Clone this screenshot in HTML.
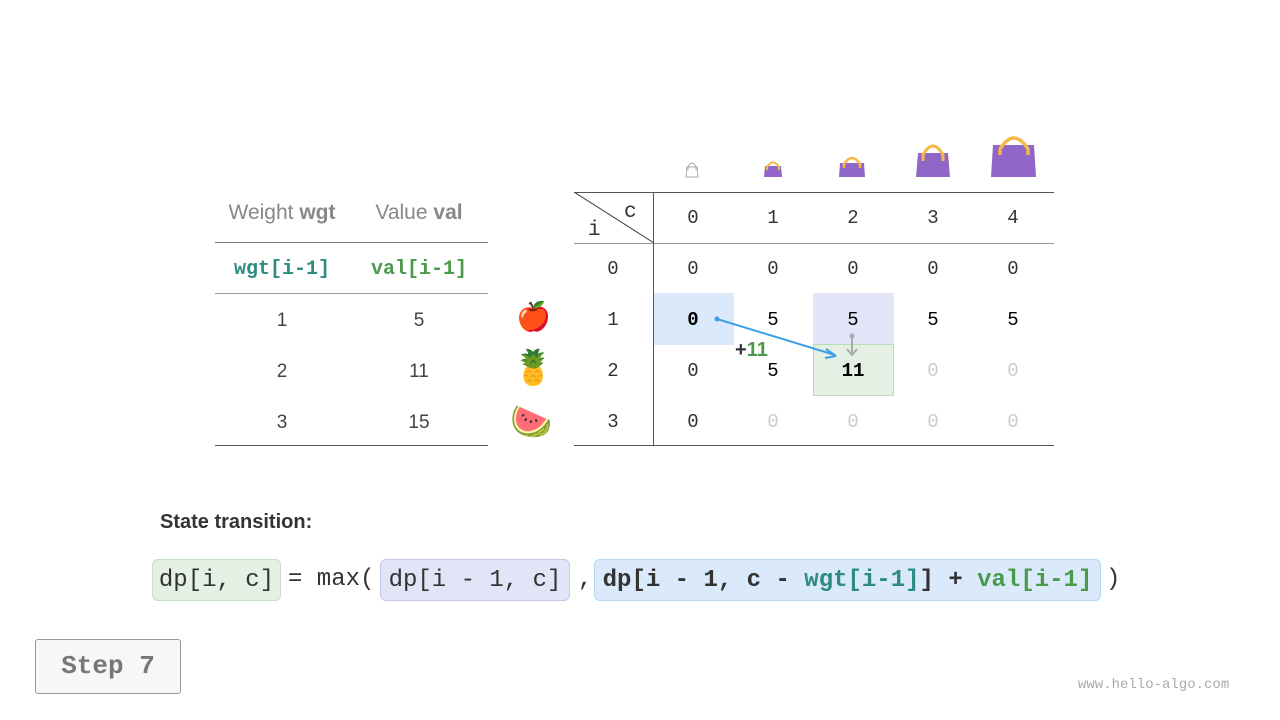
<!DOCTYPE html>
<html><head><meta charset="utf-8"><style>
body{margin:0;width:1280px;height:720px;background:#fff;position:relative;overflow:hidden;font-family:"Liberation Sans",sans-serif}
.a{position:absolute}
.m{font-family:"Liberation Mono",monospace}
.c{position:absolute;width:80px;text-align:center;font-family:"Liberation Mono",monospace;font-size:19px;color:#333;line-height:20px}
.g{color:#ccc}
.h{position:absolute;height:1px;background:#666}
.t{position:absolute;width:120px;text-align:center;font-size:19px;color:#444;line-height:20px}
.box{position:absolute;top:559px;height:42px;border-radius:6px;font-family:"Liberation Mono",monospace;font-size:24px;line-height:42px;color:#333;white-space:pre}
</style></head><body>
<div class="a" style="left:654px;top:293px;width:80px;height:52px;background:#dbeafa"></div>
<div class="a" style="left:813px;top:293px;width:81px;height:51px;background:#e1e5f7"></div>
<div class="a" style="left:813px;top:344px;width:81px;height:52px;background:#e3f0e3;border:1px solid #b5dcb5;box-sizing:border-box"></div>

<div class="t" style="left:212px;top:203px;width:140px;color:#888;font-size:21px">Weight <b>wgt</b></div>
<div class="t" style="left:349px;top:203px;width:140px;color:#888;font-size:21px">Value <b>val</b></div>
<div class="h" style="left:215px;width:273px;top:242px;background:#777"></div>
<div class="t m" style="left:222px;top:260px;color:#2e8b7f;font-weight:bold;font-family:'Liberation Mono',monospace;font-size:20px">wgt[i-1]</div>
<div class="t m" style="left:359px;top:260px;color:#4a9a4a;font-weight:bold;font-family:'Liberation Mono',monospace;font-size:20px">val[i-1]</div>
<div class="h" style="left:215px;width:273px;top:293px;background:#999"></div>
<div class="t" style="left:222px;top:311px">1</div><div class="t" style="left:359px;top:311px">5</div>
<div class="t" style="left:222px;top:362px">2</div><div class="t" style="left:359px;top:362px">11</div>
<div class="t" style="left:222px;top:413px">3</div><div class="t" style="left:359px;top:413px">15</div>
<div class="h" style="left:215px;width:273px;top:445px;background:#555"></div>

<div class="a" style="left:516px;top:300px;font-size:28px">🍎</div>
<div class="a" style="left:512px;top:348px;font-size:34px">🍍</div>
<div class="a" style="left:510px;top:402px;font-size:34px">🍉</div>

<svg class="a" style="left:560px;top:125px" width="500" height="60">
<g fill="none" stroke="#aaa" stroke-width="1"><path d="M126 52 h12 l-1 -10 h-10 z"/><path d="M128 45 v-3 q4 -8 8 0 v3"/></g>
<path d="M204 52 h18 l-1 -11 h-16z" fill="#9066c8"/><path d="M207 45 v-3 q6 -9 12 0 v3" stroke="#f5b94a" stroke-width="2" fill="none"/>
<path d="M279 52 h26 l-1 -14 h-24z" fill="#9066c8"/><path d="M284 43 v-4 q8 -12 16 0 v4" stroke="#f5b94a" stroke-width="2.5" fill="none"/>
<path d="M356 52 h34 l-2 -24 h-30z" fill="#9066c8"/><path d="M363 36 v-6 q10 -18 20 0 v6" stroke="#f5b94a" stroke-width="3" fill="none"/>
<path d="M431 52 h45 l-2 -32 h-41z" fill="#9066c8"/><path d="M440 30 v-6 q14 -22 28 0 v6" stroke="#f5b94a" stroke-width="3.5" fill="none"/>
</svg>

<div class="h" style="left:574px;width:480px;top:192px;background:#555"></div>
<div class="h" style="left:574px;width:480px;top:243px;background:#999"></div>
<div class="h" style="left:574px;width:480px;top:445px;background:#555"></div>
<div class="a" style="left:653px;top:192px;width:1px;height:254px;background:#555"></div>
<svg class="a" style="left:574px;top:192px" width="80" height="52"><line x1="0" y1="0" x2="80" y2="51" stroke="#444" stroke-width="1"/></svg>
<div class="a m" style="left:624px;top:201px;font-size:21px;color:#333">c</div>
<div class="a m" style="left:588px;top:219px;font-size:21px;color:#333">i</div>

<div class="c" style="left:653px;top:208px">0</div><div class="c" style="left:733px;top:208px">1</div><div class="c" style="left:813px;top:208px">2</div><div class="c" style="left:893px;top:208px">3</div><div class="c" style="left:973px;top:208px">4</div>
<div class="c" style="left:573px;top:259px">0</div><div class="c" style="left:653px;top:259px">0</div><div class="c" style="left:733px;top:259px">0</div><div class="c" style="left:813px;top:259px">0</div><div class="c" style="left:893px;top:259px">0</div><div class="c" style="left:973px;top:259px">0</div>
<div class="c" style="left:573px;top:310px">1</div><div class="c" style="left:653px;top:310px;color:#000;font-weight:bold">0</div><div class="c" style="left:733px;top:310px;color:#000">5</div><div class="c" style="left:813px;top:310px;color:#000">5</div><div class="c" style="left:893px;top:310px;color:#000">5</div><div class="c" style="left:973px;top:310px;color:#000">5</div>
<div class="c" style="left:573px;top:361px">2</div><div class="c" style="left:653px;top:361px">0</div><div class="c" style="left:733px;top:361px;color:#000">5</div><div class="c" style="left:813px;top:361px;color:#000;font-weight:bold">11</div><div class="c g" style="left:893px;top:361px">0</div><div class="c g" style="left:973px;top:361px">0</div>
<div class="c" style="left:573px;top:412px">3</div><div class="c" style="left:653px;top:412px">0</div><div class="c g" style="left:733px;top:412px">0</div><div class="c g" style="left:813px;top:412px">0</div><div class="c g" style="left:893px;top:412px">0</div><div class="c g" style="left:973px;top:412px">0</div>

<div class="a" style="left:735px;top:339px;font-size:20px;font-weight:bold;color:#333">+<span style="color:#4a9a4a">11</span></div>
<svg class="a" style="left:0;top:0" width="1280" height="720">
<circle cx="717" cy="319" r="2.5" fill="#3fa0e6"/>
<line x1="717" y1="319" x2="835" y2="355" stroke="#3fa0e6" stroke-width="2"/>
<path d="M836 356 l-10 -7 M836 356 l-11 2" stroke="#3fa0e6" stroke-width="2" fill="none"/>
<circle cx="852" cy="336" r="2.5" fill="#aaa"/>
<line x1="852" y1="336" x2="852" y2="355" stroke="#aaa" stroke-width="2"/>
<path d="M847 349 l5 6 l5 -6" stroke="#aaa" stroke-width="2" fill="none"/>
</svg>

<div class="a" style="left:160px;top:511px;font-size:20px;font-weight:bold;color:#333">State transition:</div>

<div class="box" style="left:152px;width:129px;background:#e3f0e3;border:1px solid #c5e0c5;box-sizing:border-box;text-align:center">dp[i, c]</div>
<div class="a m" style="left:288px;top:559px;font-size:24px;line-height:42px;color:#333;white-space:pre">= max(</div>
<div class="box" style="left:380px;width:190px;background:#e1e5f7;border:1px solid #c3c9ec;box-sizing:border-box;text-align:center">dp[i - 1, c]</div>
<div class="a m" style="left:578px;top:559px;font-size:24px;line-height:42px;color:#333">,</div>
<div class="box" style="left:594px;width:507px;background:#dbeafa;border:1px solid #b5d6f2;box-sizing:border-box;text-align:center;font-weight:bold">dp[i - 1, c - <span style="color:#2e8b7f">wgt[i-1]</span>] + <span style="color:#4a9a4a">val[i-1]</span></div>
<div class="a m" style="left:1106px;top:559px;font-size:24px;line-height:42px;color:#333">)</div>

<div class="a m" style="left:35px;top:639px;width:146px;height:55px;border:1px solid #999;border-radius:3px;box-sizing:border-box;background:#f7f7f7;text-align:center;line-height:53px;font-size:26px;font-weight:bold;color:#777">Step 7</div>
<div class="a m" style="left:1078px;top:677px;font-size:14px;color:#aaa">www.hello-algo.com</div>
</body></html>
